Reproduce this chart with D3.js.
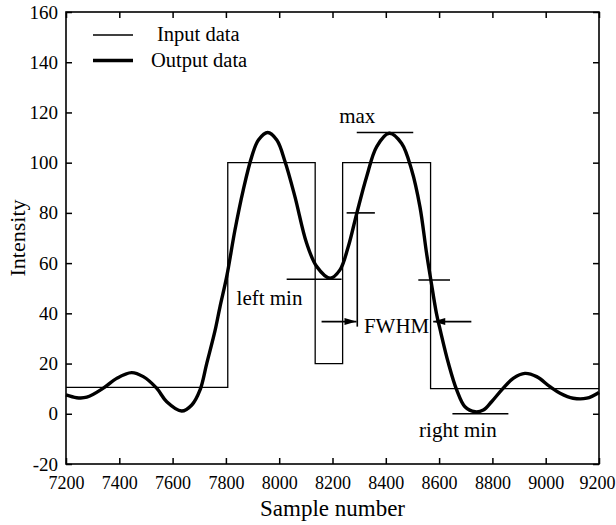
<!DOCTYPE html>
<html>
<head>
<meta charset="utf-8">
<script src="https://cdn.jsdelivr.net/npm/d3@7"></script>
<style>
	body { margin: 0; background: #fff; }
	svg { display: block; font-family: 'Liberation Serif', 'Times New Roman', serif; }
</style>
</head>
<body>
<svg id="chart"></svg>
<script>
// input (step) signal: [sample, intensity]
const inputData = [
	[7200, 10.5], [7807, 10.5], [7807, 100], [8135, 100], [8135, 20],
	[8238, 20], [8238, 100], [8568, 100], [8568, 10], [9200, 10]
];

// output (filtered) signal
const outputData = [
	[7200, 7.5], [7240, 6.4], [7278, 6.6], [7340, 10.2], [7390, 14.1],
	[7446, 16.4], [7490, 14.8], [7540, 10.2], [7578, 4.8], [7634, 1.1],
	[7672, 3.5], [7703, 9.5], [7728, 20], [7759, 33], [7778, 42.7],
	[7803, 54.6], [7834, 73.2], [7865, 89.1], [7897, 102.4], [7922, 109],
	[7957, 112], [7991, 109], [8022, 100.4], [8059, 86.5], [8103, 67.9],
	[8141, 58.6], [8191, 54], [8228, 57.3], [8259, 66.5], [8291, 79.8],
	[8328, 94.4], [8366, 106.4], [8413, 111.7], [8459, 107.7], [8497, 97.1],
	[8528, 82.5], [8553, 63.9], [8569, 53.3], [8590, 40], [8605, 33],
	[8635, 20.1], [8666, 9.5], [8697, 2.8], [8735, 0.8], [8766, 1.5],
	[8797, 4.8], [8835, 9.5], [8878, 14.1], [8922, 16.1], [8966, 14.8],
	[9016, 10.8], [9054, 8.2], [9103, 6.2], [9154, 6.2], [9200, 8.5]
];

const xTicks = [7200, 7400, 7600, 7800, 8000, 8200, 8400, 8600, 8800, 9000, 9200];
const yTicks = [-20, 0, 20, 40, 60, 80, 100, 120, 140, 160];

// annotation segments [x1, y1, x2, y2] in data units
const markerLines = [
	[8291, 112, 8503, 112],    // max
	[8253, 80, 8359, 80],      // 80 level
	[8293, 80, 8293, 34.7],    // vertical drop
	[8028, 53.6, 8234, 53.6],  // left min
	[8522, 53.3, 8641, 53.3],  // right half level
	[8159, 36.7, 8290, 36.7],  // FWHM left arrow
	[8578, 36.7, 8721, 36.7],  // FWHM right arrow
	[8650, 0, 8860, 0]         // right min
];
// arrow tips [x, y, direction]
const arrowTips = [[8290, 36.7, 1], [8578, 36.7, -1]];

const labels = [
	{ text: 'max', x: 8225, y: 115.7 },
	{ text: 'left min', x: 7840, y: 43.3 },
	{ text: 'FWHM', x: 8318, y: 32 },
	{ text: 'right min', x: 8525, y: -9.1 }
];

const width = 616, height = 525;
const svg = d3.select('#chart').attr('width', width).attr('height', height);

const x = d3.scaleLinear().domain([7200, 9200]).range([66, 599]);
const y = d3.scaleLinear().domain([-20, 160]).range([464, 12]);

// axes with inward ticks on all four sides
const axisFont = size => g => g.selectAll('text')
	.attr('font-family', "'Liberation Serif', serif")
	.attr('font-size', size)
	.attr('fill', '#000');

svg.append('g')
	.attr('transform', `translate(0,${y(-20)})`)
	.call(d3.axisBottom(x).tickValues(xTicks).tickFormat(d => String(d))
		.tickSizeInner(-6).tickSizeOuter(0).tickPadding(12))
	.call(axisFont(18))
	.call(g => g.selectAll('.tick text').filter(d => d === 9200).attr('dx', -2))
	.call(g => g.select('.domain').remove());

svg.append('g')
	.attr('transform', `translate(0,${y(160)})`)
	.call(d3.axisTop(x).tickValues(xTicks).tickFormat('')
		.tickSizeInner(-6).tickSizeOuter(0))
	.call(g => g.select('.domain').remove());

svg.append('g')
	.attr('transform', `translate(${x(7200)},0)`)
	.call(d3.axisLeft(y).tickValues(yTicks).tickFormat(d => String(d))
		.tickSizeInner(-6).tickSizeOuter(0).tickPadding(8))
	.call(axisFont(19))
	.call(g => g.select('.domain').remove());

svg.append('g')
	.attr('transform', `translate(${x(9200)},0)`)
	.call(d3.axisRight(y).tickValues(yTicks).tickFormat('')
		.tickSizeInner(-6).tickSizeOuter(0))
	.call(g => g.select('.domain').remove());

svg.selectAll('.tick line').attr('stroke', '#000').attr('stroke-width', 1.5);

svg.append('rect')
	.attr('x', x(7200)).attr('y', y(160))
	.attr('width', x(9200) - x(7200)).attr('height', y(-20) - y(160))
	.attr('fill', 'none').attr('stroke', '#000').attr('stroke-width', 1.6);

// data lines
const line = d3.line().x(d => x(d[0])).y(d => y(d[1]));

svg.append('path').datum(inputData)
	.attr('d', line)
	.attr('fill', 'none').attr('stroke', '#000').attr('stroke-width', 1.3);

svg.append('path').datum(outputData)
	.attr('d', line.curve(d3.curveCatmullRom))
	.attr('fill', 'none').attr('stroke', '#000').attr('stroke-width', 3.4)
	.attr('stroke-linejoin', 'round');

// annotations
svg.append('g').selectAll('line').data(markerLines).enter()
	.append('line')
		.attr('x1', d => x(d[0])).attr('y1', d => y(d[1]))
		.attr('x2', d => x(d[2])).attr('y2', d => y(d[3]))
		.attr('stroke', '#000').attr('stroke-width', 1.6);

svg.append('g').selectAll('path').data(arrowTips).enter()
	.append('path')
		.attr('d', d => {
			const tx = x(d[0]), ty = y(d[1]), dir = d[2];
			return `M${tx},${ty}L${tx - dir * 12},${ty - 3.5}L${tx - dir * 12},${ty + 3.5}Z`;
		})
		.attr('fill', '#000');

svg.append('g').selectAll('text').data(labels).enter()
	.append('text')
		.attr('x', d => x(d.x)).attr('y', d => y(d.y))
		.attr('font-size', 21)
		.text(d => d.text);

// legend
const legend = [
	{ name: 'Input data', w: 1.3, ly: 35, tx: 157 },
	{ name: 'Output data', w: 3.4, ly: 60.5, tx: 151 }
];
const lg = svg.append('g');
lg.selectAll('line').data(legend).enter().append('line')
	.attr('x1', 93).attr('x2', 133)
	.attr('y1', d => d.ly).attr('y2', d => d.ly)
	.attr('stroke', '#000').attr('stroke-width', d => d.w);
lg.selectAll('text').data(legend).enter().append('text')
	.attr('x', d => d.tx).attr('y', d => d.ly + 6)
	.attr('font-size', 20.5)
	.text(d => d.name);

// axis titles
svg.append('text')
	.attr('x', (x(7200) + x(9200)) / 2).attr('y', 516)
	.attr('text-anchor', 'middle').attr('font-size', 23)
	.text('Sample number');

svg.append('text')
	.attr('transform', `translate(25,${(y(-20) + y(160)) / 2}) rotate(-90)`)
	.attr('text-anchor', 'middle').attr('font-size', 22)
	.text('Intensity');
</script>
</body>
</html>
